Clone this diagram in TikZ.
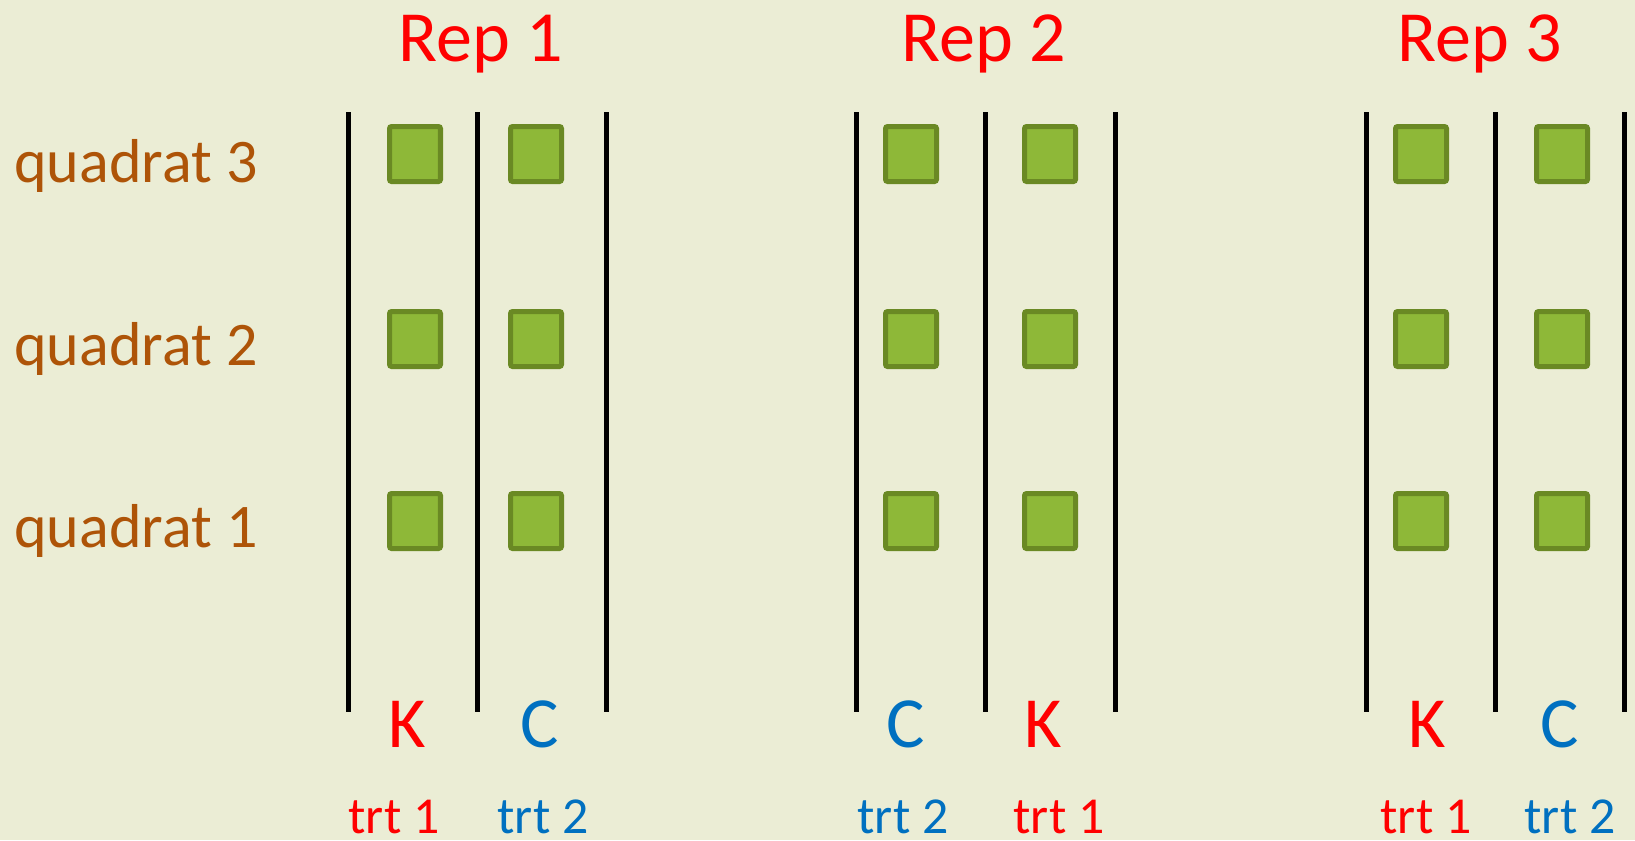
\documentclass[tikz,border=0pt]{standalone}
\usepackage{fontspec}
\setmainfont{Carlito}
\usepackage{xcolor}
\usetikzlibrary{positioning}
\definecolor{bgcol}{RGB}{235,237,213}
\definecolor{trtred}{RGB}{255,0,0}
\definecolor{trtblue}{RGB}{0,112,192}
\definecolor{quadbrown}{RGB}{174,84,8}
\definecolor{plotfill}{RGB}{142,184,56}
\definecolor{plotdraw}{RGB}{106,137,36}
\tikzset{
    rep/.style={anchor=base, inner sep=0pt, text=trtred, font=\fontsize{41}{48}\selectfont},
    quad/.style={anchor=base west, inner sep=0pt, text=quadbrown, font=\fontsize{35.3}{42}\selectfont},
    letter/.style={anchor=base, inner sep=0pt, font=\fontsize{41}{48}\selectfont},
    trt/.style={anchor=base, inner sep=0pt, font=\fontsize{29.5}{35}\selectfont},
    border/.style={line width=2.85pt, black},
    plotsq/.style={draw=plotdraw, fill=plotfill, line width=2.85pt, rounded corners=1.2pt,
        minimum width=1.02cm, minimum height=1.1cm, inner sep=0pt}
}

\begin{document}
\begin{tikzpicture}[x=0.02cm, y=-0.02cm]
    \fill[bgcol] (0,0) rectangle (1635,840);
    \useasboundingbox (0,0) rectangle (1635,840);
    % blocks
    \node[rep] (rep1) at (481,61) {Rep 1};
    \node[rep] (rep2) at (984,61) {Rep 2};
    \node[rep] (rep3) at (1480,61) {Rep 3};
    % rows
    \node[quad] (quad3) at (14,182) {quadrat 3};
    \node[quad] (quad2) at (14,365) {quadrat 2};
    \node[quad] (quad1) at (14,547) {quadrat 1};
    % plot borders
    \foreach \x [count=\i] in {348,477,606,856,985,1115,1366,1495,1624} {
        \coordinate (top\i) at (\x,112);
        \coordinate (bot\i) at (\x,712);
        \draw[border] (top\i) -- (bot\i);
    }
    % quadrats
    \foreach \x [count=\c] in {415,536,911,1050,1421,1562}
        \foreach \y [count=\r] in {521,339,154}
            \node[plotsq] (sq\c-\r) at (\x,\y) {};
    % treatments
    \node[letter, text=trtred] (k1) at (407,747) {K};
    \node[letter, text=trtblue] (c1) at (540,747) {C};
    \node[letter, text=trtblue] (c2) at (906,747) {C};
    \node[letter, text=trtred] (k2) at (1043,747) {K};
    \node[letter, text=trtred] (k3) at (1427,747) {K};
    \node[letter, text=trtblue] (c3) at (1560,747) {C};
    \node[trt, text=trtred] (t11) at (394,833) {trt 1};
    \node[trt, text=trtblue] (t12) at (543,833) {trt 2};
    \node[trt, text=trtblue] (t22) at (903,833) {trt 2};
    \node[trt, text=trtred] (t21) at (1059,833) {trt 1};
    \node[trt, text=trtred] (t31) at (1426,833) {trt 1};
    \node[trt, text=trtblue] (t32) at (1570,833) {trt 2};
\end{tikzpicture}
\end{document}
